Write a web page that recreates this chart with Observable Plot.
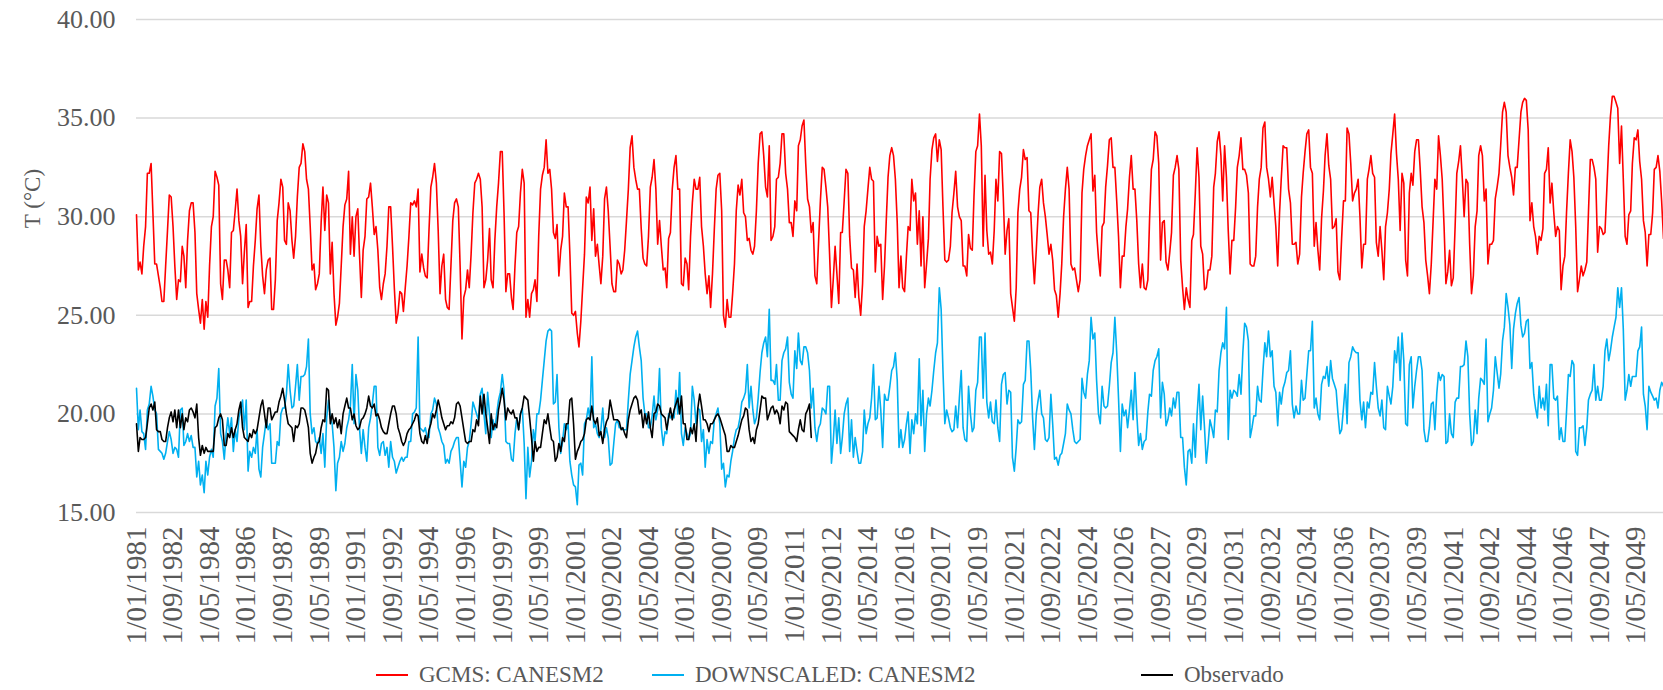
<!DOCTYPE html>
<html><head><meta charset="utf-8">
<script src="https://cdn.jsdelivr.net/npm/d3@7"></script>
<script src="https://cdn.jsdelivr.net/npm/@observablehq/plot@0.6"></script>
<style>
html,body{margin:0;padding:0;background:#fff;}
#wrap{width:1663px;height:690px;position:relative;overflow:hidden;font-family:"Liberation Serif","Times New Roman",serif;}
#chart{position:absolute;left:0;top:0;}
#legend{position:absolute;left:0;top:657px;width:1663px;height:35px;}
.item{position:absolute;top:0;height:35px;display:flex;align-items:center;font-size:23px;color:#595959;white-space:nowrap;}
.sw{width:32px;height:0;border-top:2px solid;margin-right:11px;}
</style></head><body><div id="wrap"><div id="chart"></div><div id="legend"></div></div>
<script>
// Monthly series starting 1981-01
const startYear = 1981;
const seriesNames = ["GCMS: CANESM2", "DOWNSCALED: CANESM2", "Observado"];
const seriesColors = ["#ff0000", "#00b0f0", "#000000"];
const yTicks = [15, 20, 25, 30, 35, 40];
const tickLabels = ["1/01/1981","1/09/1982","1/05/1984","1/01/1986","1/09/1987","1/05/1989","1/01/1991","1/09/1992","1/05/1994","1/01/1996","1/09/1997","1/05/1999","1/01/2001","1/09/2002","1/05/2004","1/01/2006","1/09/2007","1/05/2009","1/01/2011","1/09/2012","1/05/2014","1/01/2016","1/09/2017","1/05/2019","1/01/2021","1/09/2022","1/05/2024","1/01/2026","1/09/2027","1/05/2029","1/01/2031","1/09/2032","1/05/2034","1/01/2036","1/09/2037","1/05/2039","1/01/2041","1/09/2042","1/05/2044","1/01/2046","1/09/2047","1/05/2049"];

const gcms = [
30.1,27.3,27.7,27.1,28.5,29.5,32.2,32.2,32.7,30.2,27.6,27.6,27.0,26.4,25.7,25.7,27.5,29.3,31.1,31.0,29.5,27.5,25.8,26.8,26.7,28.5,28.0,26.4,28.8,30.3,30.7,30.7,29.2,26.1,25.3,24.6,25.8,24.3,25.7,24.9,27.5,29.5,30.0,32.3,32.0,31.6,26.6,25.8,27.8,27.8,27.3,26.4,29.2,29.3,30.3,31.4,29.8,29.0,26.6,28.2,29.6,25.4,25.7,25.7,27.5,28.8,30.4,31.1,
28.5,27.0,26.1,27.3,27.8,27.9,25.3,25.3,26.8,29.8,30.7,31.9,31.5,28.8,28.6,30.7,30.3,28.8,27.9,29.0,31.0,32.5,32.7,33.7,33.3,31.9,31.4,29.5,27.3,27.6,26.3,26.6,27.1,29.7,31.5,29.3,31.1,30.7,27.1,28.7,26.1,24.5,24.9,25.6,27.5,29.5,30.6,30.9,32.3,28.1,30.0,28.0,30.0,30.4,28.1,25.9,28.3,29.0,30.9,31.0,31.7,30.5,29.1,29.5,28.3,26.4,25.8,26.6,27.1,
28.5,30.5,30.5,28.5,26.4,24.6,25.1,26.2,26.1,25.2,26.4,27.5,29.0,30.7,30.6,30.8,30.5,31.4,27.2,28.1,27.4,27.0,26.9,29.3,31.5,32.0,32.7,31.7,29.3,26.1,27.5,28.1,25.8,25.4,25.3,27.5,29.8,30.7,30.9,30.5,27.5,23.8,25.9,26.3,27.3,26.4,28.1,30.2,31.7,31.9,32.2,31.9,30.5,26.4,26.8,27.8,29.4,26.8,26.4,28.8,30.5,31.7,33.3,33.3,30.2,26.2,27.1,27.1,25.9,25.3,27.5,29.2,
29.5,31.2,32.4,31.7,24.9,25.8,24.9,26.1,26.3,26.8,25.7,29.0,31.4,32.1,32.5,33.9,32.2,32.4,31.4,29.2,28.9,29.6,27.0,28.3,29.0,31.2,30.5,30.5,28.1,25.1,25.0,25.2,24.1,23.4,24.7,26.4,28.1,31.0,30.7,31.5,28.8,30.4,28.0,28.6,27.5,26.6,28.0,30.9,31.5,30.3,28.5,26.6,26.2,26.2,27.8,27.6,27.1,27.3,28.3,29.8,31.4,33.5,34.1,32.5,31.9,31.4,31.4,29.4,27.9,27.6,
27.5,29.0,31.5,32.0,32.9,31.4,28.6,29.8,28.5,27.3,27.4,26.4,28.9,29.2,31.4,32.5,33.1,31.4,31.4,26.6,26.5,27.9,27.6,26.3,29.0,30.7,31.9,31.4,31.4,32.0,29.5,28.5,27.1,26.1,27.0,25.4,27.1,29.3,31.4,32.1,32.2,30.3,25.0,24.4,25.8,24.9,24.9,26.1,27.6,30.3,31.6,31.1,31.9,30.2,30.0,28.8,28.9,28.3,28.1,28.5,30.3,32.7,34.2,34.3,33.1,31.5,31.0,33.6,28.8,
29.0,29.5,31.9,32.0,32.7,34.2,34.2,32.2,31.4,29.7,29.7,29.0,30.8,30.3,33.6,33.9,34.6,34.9,32.7,30.9,30.5,29.2,29.7,27.0,26.6,28.8,30.8,32.5,32.4,31.5,30.5,28.1,25.4,26.8,28.5,27.1,25.6,29.2,29.2,30.8,32.4,32.2,29.0,27.4,27.3,25.9,27.6,25.9,25.0,26.6,29.5,30.3,31.4,32.5,31.9,31.8,27.2,29.0,28.5,28.6,25.8,27.5,29.7,32.0,33.1,33.5,33.1,31.9,29.7,26.4,
28.0,26.4,26.2,28.0,29.5,29.3,31.9,30.8,31.2,28.6,30.3,27.5,30.0,26.4,27.6,28.9,31.9,33.4,34.0,34.2,32.8,33.9,33.4,30.5,27.8,27.7,27.8,28.5,30.2,31.2,32.3,30.5,30.0,29.8,27.5,27.5,27.0,29.1,28.4,28.3,31.0,33.3,33.6,35.2,33.6,28.5,32.1,29.3,28.1,28.2,27.6,29.3,31.9,30.8,33.3,33.2,31.0,28.1,29.3,29.9,26.1,25.4,24.7,26.4,30.2,31.4,32.0,33.4,32.9,33.0,
30.3,30.2,28.1,26.6,28.3,30.2,31.5,31.9,30.7,30.0,29.1,28.1,28.6,27.8,26.3,26.0,24.9,26.1,27.6,30.0,31.4,32.5,31.4,27.6,27.3,27.4,26.8,26.2,26.8,31.2,32.4,33.1,33.6,33.9,34.2,31.3,32.1,29.2,27.9,27.0,29.5,29.7,31.5,32.6,33.9,34.0,32.5,32.5,30.8,29.0,26.4,28.0,28.0,29.5,30.4,32.0,33.1,31.4,31.4,29.8,27.6,26.4,27.6,26.4,26.3,26.8,29.8,32.4,32.9,34.3,
34.1,32.7,27.8,29.7,29.8,27.7,27.3,28.2,29.2,32.1,32.5,33.1,32.4,27.8,26.4,25.3,26.4,25.8,25.4,28.8,29.1,31.2,33.5,32.0,28.5,28.1,26.3,26.4,27.3,27.3,28.0,31.5,32.2,33.8,34.3,33.1,30.8,33.6,32.0,29.3,27.1,28.8,28.8,30.5,32.5,33.1,34.0,32.4,32.4,32.1,31.2,27.6,27.5,27.5,28.0,30.5,31.9,32.5,34.5,34.8,32.5,31.9,31.0,32.0,30.7,29.5,27.5,30.2,31.9,33.6,
33.5,33.5,31.4,30.7,28.6,28.6,28.7,27.6,28.1,31.0,32.2,33.3,34.2,34.4,32.5,32.2,28.5,29.7,28.3,27.3,29.9,31.3,33.1,34.2,32.6,31.9,29.4,29.5,29.9,27.2,26.8,28.9,30.8,30.8,34.5,34.2,32.7,30.8,31.2,31.4,31.9,30.0,27.4,28.6,28.6,31.9,32.4,33.1,32.2,32.0,28.7,28.0,29.5,28.3,26.8,29.5,30.2,31.4,33.2,34.2,35.2,33.2,31.9,29.3,32.2,31.7,27.8,27.0,31.2,32.2,
31.6,33.3,33.9,33.9,32.4,30.5,29.7,27.8,27.0,26.1,27.6,29.8,31.9,31.4,34.1,33.1,31.9,29.5,26.6,27.2,28.3,26.5,26.9,29.5,32.2,32.8,33.6,31.9,30.0,31.9,31.7,28.6,26.1,27.0,29.5,30.3,33.1,33.6,33.1,30.8,31.4,27.6,28.6,28.6,28.8,30.9,31.5,32.2,33.6,35.3,35.8,35.3,33.1,32.5,32.0,31.1,32.5,32.5,33.9,35.3,35.8,36.0,35.9,34.4,29.8,30.7,29.5,29.0,28.1,29.0,
28.8,29.4,32.2,32.4,33.5,30.7,31.7,30.2,29.0,29.5,29.3,26.3,27.5,28.0,30.2,32.2,33.9,33.3,32.0,29.5,26.2,26.8,27.5,27.0,27.3,27.7,30.2,32.9,32.9,32.5,31.9,28.2,29.5,29.4,29.1,29.2,31.4,33.6,35.1,36.1,36.1,35.8,35.5,32.7,34.6,31.9,29.0,28.6,30.1,30.3,32.7,34.0,33.9,34.4,32.8,31.9,29.8,29.2,27.5,29.1,29.1,30.2,32.4,32.5,33.1,32.3,30.8,28.9
];

const downscaled = [
21.3,19.2,20.2,19.1,19.0,18.2,20.2,20.5,21.4,20.9,20.2,20.0,18.2,18.1,18.0,17.7,18.0,18.6,19.1,18.7,18.0,18.3,18.2,17.8,20.2,20.3,18.4,18.6,19.0,18.6,18.9,18.3,18.3,16.8,17.6,16.4,16.9,16.0,17.6,16.9,17.8,18.2,17.8,20.4,20.8,22.3,19.0,18.6,17.7,19.0,19.8,19.0,19.8,18.1,19.2,18.6,19.8,20.2,20.7,19.2,20.7,17.1,18.1,17.8,18.3,18.0,19.2,17.2,
16.8,18.3,19.0,19.7,19.2,19.5,17.5,17.5,17.5,18.6,18.4,20.0,20.3,20.3,21.0,22.5,21.2,20.3,20.4,21.4,22.5,20.7,21.9,21.9,22.0,22.4,23.8,20.0,19.0,19.3,18.6,18.5,18.8,18.0,19.0,17.3,19.8,20.7,19.8,19.5,18.3,16.1,17.5,17.8,18.6,18.1,18.5,19.3,19.7,20.4,22.5,19.5,22.0,21.2,19.3,18.0,19.2,18.3,17.6,19.3,19.8,20.5,21.4,21.4,18.3,17.9,18.5,18.6,17.9,
18.3,17.3,18.6,17.8,17.6,17.0,17.3,17.6,17.8,17.6,17.8,17.8,18.6,18.6,20.0,20.1,20.3,23.9,19.3,19.2,19.1,19.3,18.8,18.8,20.0,20.2,20.8,20.5,19.3,19.0,18.6,18.4,17.5,17.7,17.5,18.1,18.3,18.6,18.8,18.8,17.6,16.3,17.6,17.3,18.3,18.6,19.5,20.6,20.3,20.0,19.7,21.0,21.3,20.0,19.0,21.1,20.0,18.8,19.7,19.2,20.0,20.7,21.1,22.0,21.2,18.6,18.5,18.5,17.7,17.6,19.0,19.8,
19.2,20.0,20.3,18.5,15.7,18.3,16.8,17.6,19.2,18.6,20.0,20.0,20.7,21.7,22.7,23.7,24.2,24.3,24.2,20.5,20.6,22.0,19.3,18.0,18.6,19.5,19.2,19.5,17.6,16.9,16.4,16.3,15.4,17.4,17.5,16.9,19.5,19.7,20.3,19.7,22.9,19.3,19.5,19.0,18.8,19.2,20.3,18.8,19.3,18.8,17.4,17.5,18.5,19.5,19.7,19.3,19.3,19.2,19.2,19.2,20.7,22.0,22.7,23.4,23.9,24.2,23.4,22.7,20.8,20.0,
20.0,19.3,19.3,19.9,20.9,19.7,20.2,22.3,19.3,18.4,19.1,19.0,20.0,19.8,20.0,19.8,21.2,20.0,22.1,19.0,18.4,19.3,19.0,18.7,19.0,21.4,20.7,19.5,20.3,20.2,18.6,19.2,17.3,18.7,18.0,18.6,18.5,19.7,20.0,20.3,19.5,17.2,17.5,16.3,16.9,16.8,17.6,18.1,18.8,19.2,19.3,19.8,20.6,20.8,21.1,22.5,20.3,21.4,20.2,19.5,19.8,20.8,22.1,23.1,23.6,23.9,22.9,25.3,21.7,
21.7,21.5,22.5,20.7,20.7,22.7,23.1,23.3,23.9,21.6,21.0,20.8,23.2,22.3,24.1,22.7,22.5,23.4,23.4,23.1,22.2,20.3,21.3,19.3,18.6,19.3,19.5,20.3,20.2,20.0,21.4,21.4,17.5,18.6,20.2,18.5,19.8,18.0,18.8,20.0,20.5,20.8,18.1,19.7,17.8,18.8,18.1,17.5,17.5,18.1,20.2,19.0,19.5,19.8,20.8,22.5,19.7,19.8,21.4,20.2,18.3,21.0,20.7,20.7,21.4,22.2,22.4,23.1,21.7,18.3,
19.2,18.3,18.7,19.5,20.1,18.0,19.7,19.0,20.0,19.5,22.8,19.4,21.2,18.1,20.0,20.8,20.4,21.2,22.2,23.1,23.6,26.4,25.3,22.2,19.5,20.2,19.8,19.3,19.1,19.2,20.4,19.3,20.8,22.2,19.3,18.7,18.6,21.4,20.0,19.1,19.3,21.2,21.6,23.9,23.9,20.8,24.1,20.6,19.8,20.6,19.6,19.5,20.7,19.3,18.6,21.5,22.0,22.1,20.5,21.2,21.1,17.8,17.1,18.3,19.7,19.5,19.6,21.5,21.7,23.7,
23.7,22.2,19.8,18.2,20.0,20.7,21.2,20.0,19.8,18.7,18.6,18.8,21.0,19.5,17.7,17.8,17.4,17.9,18.0,18.5,19.0,20.5,20.2,20.0,19.2,18.6,18.5,18.6,18.7,21.8,21.1,20.8,22.0,22.7,24.9,23.8,24.1,21.7,20.0,19.5,21.4,20.4,20.3,20.4,21.4,22.6,23.1,24.9,23.1,20.8,18.1,20.5,19.9,20.2,19.3,20.2,21.2,19.7,22.1,20.0,18.4,19.0,18.2,18.6,18.7,20.1,21.0,20.9,22.2,22.7,
22.9,23.3,19.8,21.6,21.0,19.4,19.7,20.3,19.9,20.8,20.3,21.1,21.1,18.8,18.8,17.3,16.4,18.1,18.2,17.5,19.5,17.8,20.0,21.5,19.2,20.9,19.3,17.5,18.5,19.7,19.3,18.8,20.2,20.1,22.2,23.1,23.6,23.3,25.4,18.7,21.2,20.8,21.2,21.1,20.9,22.0,21.0,23.1,24.6,24.4,23.7,18.8,19.3,19.9,19.9,21.4,20.7,20.6,22.2,23.6,22.9,24.2,22.9,23.2,21.4,21.1,19.4,21.1,20.5,21.3,
21.6,22.1,22.2,23.2,20.5,19.8,20.4,20.0,20.0,21.7,20.7,20.8,22.0,23.2,23.2,24.7,20.3,20.8,20.0,19.7,21.5,21.9,21.8,22.4,21.4,22.7,21.8,21.5,21.2,20.0,19.0,19.2,20.3,21.5,19.5,22.6,22.9,23.4,23.2,23.1,23.1,20.7,19.7,20.6,19.3,20.6,20.3,21.1,21.0,22.6,21.4,20.3,19.9,20.7,19.3,19.2,21.4,20.9,20.5,21.4,23.2,22.6,23.9,21.7,24.1,22.7,19.5,19.4,22.5,22.9,
20.3,21.4,22.2,22.9,22.9,22.2,19.2,18.6,18.6,19.3,20.5,20.6,19.2,21.0,22.1,21.7,22.0,21.9,18.5,18.6,20.0,19.0,18.8,20.6,20.8,20.8,22.4,22.4,22.5,23.7,22.9,20.0,18.4,18.6,20.2,19.0,20.8,21.8,21.7,21.5,23.8,19.6,20.0,20.3,21.2,22.9,22.1,21.3,22.0,23.7,24.4,26.1,25.4,24.5,22.3,24.3,25.1,25.6,25.9,24.5,23.9,24.1,24.7,24.8,22.3,22.6,21.0,20.3,19.8,21.4,
20.3,20.8,20.2,21.5,19.4,22.5,22.5,20.8,20.7,20.9,18.7,19.3,18.6,18.6,20.1,22.0,21.9,22.7,22.5,18.1,17.9,19.3,19.3,19.4,18.4,19.3,20.7,21.0,21.2,22.5,20.7,21.4,20.7,20.7,21.4,23.2,23.8,22.7,23.2,23.9,24.4,24.9,26.4,25.4,26.4,24.3,20.7,21.2,22.0,21.4,21.9,21.9,21.9,23.2,23.4,24.4,21.0,20.4,19.2,21.4,21.1,20.9,20.7,20.8,20.3,21.2,21.6,21.4
];

const observado = [
19.5,18.1,18.8,18.7,18.7,18.8,19.5,20.3,20.5,20.2,20.6,19.2,19.1,19.1,18.7,18.6,18.6,19.3,19.8,20.1,19.6,20.2,19.3,20.2,19.3,20.0,19.2,19.8,19.6,20.2,20.3,20.1,19.8,20.5,18.8,17.9,18.4,18.0,18.3,18.1,18.1,18.1,18.1,19.3,19.4,19.8,20.0,19.7,18.4,18.4,19.0,18.8,19.3,18.8,19.2,19.5,20.2,20.6,19.3,18.8,18.7,18.6,19.0,18.8,19.2,19.0,19.2,19.8,
20.4,20.7,20.0,19.3,20.3,20.3,19.7,19.9,20.1,20.1,20.6,20.9,21.3,20.7,20.0,19.5,19.4,19.3,18.6,19.4,19.3,19.5,20.3,20.3,20.2,19.8,19.3,18.0,17.5,17.8,18.0,18.5,18.6,19.3,19.7,19.6,21.3,21.2,19.5,20.0,19.5,19.8,19.3,19.7,19.0,20.0,20.4,20.8,20.3,20.3,19.7,20.0,19.4,19.2,19.3,19.7,19.8,20.0,20.3,20.9,20.4,20.3,20.5,19.9,20.0,19.7,19.3,19.1,19.0,
19.0,19.5,20.0,20.4,20.4,20.0,19.3,19.0,18.6,18.4,18.6,19.0,19.2,19.3,19.5,19.7,20.0,19.9,19.0,18.6,18.5,18.9,18.5,19.2,19.5,20.0,19.8,20.2,20.7,20.3,19.8,19.5,19.2,19.4,19.4,19.6,19.5,19.8,20.5,20.6,20.4,19.8,19.2,18.6,18.5,18.6,18.6,19.2,19.1,19.7,19.4,20.9,20.0,21.0,20.0,19.3,18.5,20.0,19.2,19.5,19.3,20.2,20.7,21.3,20.7,19.7,20.3,20.1,20.0,20.2,19.8,19.8,
19.2,20.0,20.3,20.9,20.8,20.7,19.8,18.8,17.6,18.6,18.1,18.3,18.3,19.0,19.7,19.5,20.0,19.3,18.7,18.6,17.6,17.8,18.5,18.1,18.8,18.6,19.5,19.5,20.7,20.8,19.5,17.7,18.1,18.3,18.6,18.7,19.0,19.7,19.8,19.7,20.4,19.7,19.5,19.8,18.9,19.1,18.5,19.2,19.6,19.8,20.7,20.2,19.7,19.7,19.7,19.6,19.2,19.3,19.0,18.8,19.7,20.2,20.5,20.8,20.9,20.7,20.0,20.2,19.3,20.0,
19.5,20.1,19.3,18.8,20.0,20.1,20.5,20.4,20.0,19.9,19.8,19.2,19.8,20.3,19.7,20.2,20.5,20.8,20.0,20.9,19.5,19.5,18.7,18.7,19.3,19.0,19.5,18.6,20.3,21.0,20.4,19.7,19.7,19.5,19.1,19.5,19.5,19.7,19.9,20.0,19.8,19.5,19.2,18.9,18.1,18.1,18.4,18.3,18.3,18.6,18.9,19.3,19.7,19.9,20.3,20.2,19.2,18.6,18.8,18.5,19.2,19.5,20.2,20.9,20.8,20.8,19.7,20.0,20.3,
20.4,20.0,20.2,20.0,19.5,20.4,20.2,20.6,20.5,19.1,19.0,18.9,18.8,18.6,19.2,19.7,19.2,19.1,20.0,20.2,20.5,18.8
];

const monthDate = i => new Date(Date.UTC(startYear, i, 1));
const toRows = arr => arr.map((v, i) => ({date: monthDate(i), v}));
const tickDates = tickLabels.map(s => { const [d, m, y] = s.split("/").map(Number); return new Date(Date.UTC(y, m - 1, d)); });
const labelOf = new Map(tickDates.map((d, i) => [+d, tickLabels[i]]));
const lastIndex = Math.max(gcms.length, downscaled.length) - 1;

const chart = Plot.plot({
  width: 1663, height: 657,
  marginLeft: 136, marginRight: 0, marginTop: 19, marginBottom: 145,
  style: {fontFamily: "'Liberation Serif', 'Times New Roman', serif", fontSize: "26px", color: "#595959", background: "white", overflow: "visible"},
  x: {type: "utc", domain: [monthDate(0), monthDate(lastIndex)]},
  y: {domain: [15, 40]},
  marks: [
    Plot.ruleY(yTicks, {stroke: "#d9d9d9", strokeWidth: 1.5}),
    Plot.axisY({ticks: yTicks, tickFormat: d3.format(".2f"), tickSize: 0, tickPadding: 21, label: null, fontSize: 26}),
    Plot.axisX({ticks: tickDates, tickFormat: d => labelOf.get(+d), tickRotate: -90, tickSize: 0, tickPadding: 14, label: null, fontSize: 29}),
    Plot.line(toRows(gcms), {x: "date", y: "v", stroke: seriesColors[0], strokeWidth: 1.6}),
    Plot.line(toRows(downscaled), {x: "date", y: "v", stroke: seriesColors[1], strokeWidth: 1.6}),
    Plot.line(toRows(observado), {x: "date", y: "v", stroke: seriesColors[2], strokeWidth: 1.6}),
    Plot.text(["T (°C)"], {text: d => d, frameAnchor: "top-left", dx: -104, dy: 179, rotate: -90, textAnchor: "middle", lineAnchor: "middle", fontSize: 23, fill: "#595959"})
  ]
});
document.getElementById("chart").appendChild(chart);

const legendPos = [376, 652, 1141];
const legend = document.getElementById("legend");
seriesNames.forEach((name, i) => {
  const item = document.createElement("div");
  item.className = "item";
  item.style.left = legendPos[i] + "px";
  const sw = document.createElement("div");
  sw.className = "sw";
  sw.style.borderTopColor = seriesColors[i];
  const t = document.createElement("span");
  t.textContent = name;
  item.appendChild(sw); item.appendChild(t);
  legend.appendChild(item);
});
</script></body></html>
